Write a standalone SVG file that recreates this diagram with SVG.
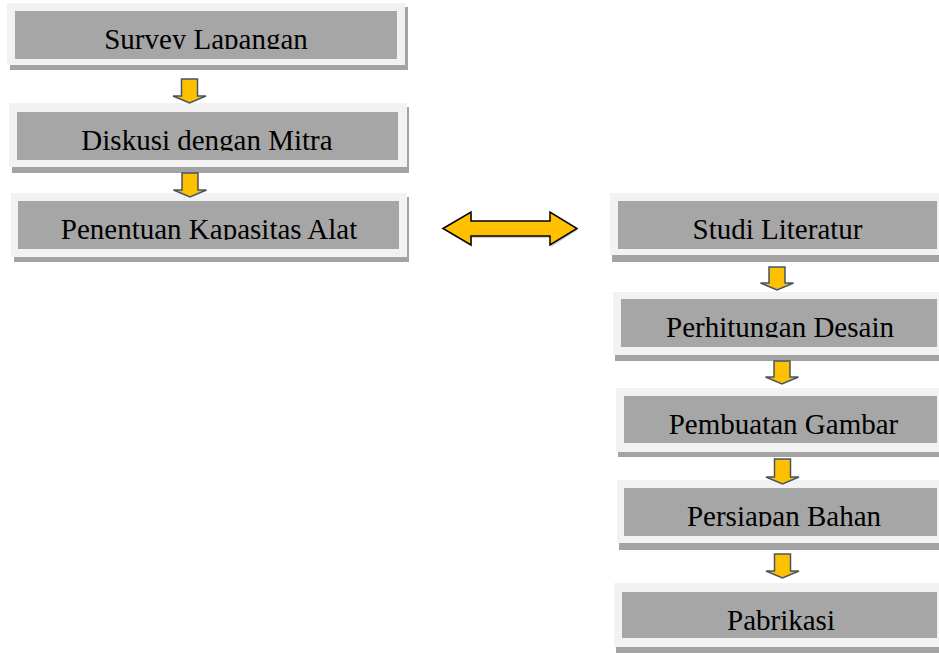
<svg xmlns="http://www.w3.org/2000/svg" width="939" height="654" viewBox="0 0 939 654">
<style>
.sh{fill:#a3a3a3}
.out{fill:#f2f2f2}
.in{fill:#a6a6a6}
.t{font-family:"Liberation Serif","Times New Roman",serif;font-size:29px;fill:#000;text-anchor:middle}
.da{fill:#ffc000;stroke:#44546a;stroke-width:1.5;stroke-linejoin:miter}
.dbl{fill:#ffc000;stroke:#000;stroke-width:1.5;stroke-linejoin:miter}
</style>
<defs>
<clipPath id="c1"><rect x="15" y="11" width="382" height="38"/></clipPath>
<clipPath id="c2"><rect x="17" y="112" width="381" height="39"/></clipPath>
<clipPath id="c3"><rect x="18" y="201" width="381" height="39"/></clipPath>
<clipPath id="c4"><rect x="618" y="201" width="319" height="38.5"/></clipPath>
<clipPath id="c5"><rect x="621" y="299" width="316" height="38.5"/></clipPath>
<clipPath id="c6"><rect x="624" y="396" width="313" height="38.5"/></clipPath>
<clipPath id="c7"><rect x="624" y="488" width="313" height="38.5"/></clipPath>
<clipPath id="c8"><rect x="622" y="592" width="315" height="38.5"/></clipPath>
</defs>
<rect width="939" height="654" fill="#fff"/>
<g id="survey-lapangan">
<rect class="sh" x="10" y="7" width="398" height="63"/>
<rect class="out" x="7" y="3" width="398" height="62"/>
<rect class="in" x="15" y="11" width="382" height="48"/>
<text class="t" x="206" y="48.5" clip-path="url(#c1)">Survey Lapangan</text>
</g>
<g id="diskusi-dengan-mitra">
<rect class="sh" x="12" y="107" width="397" height="66"/>
<rect class="out" x="9" y="103" width="398" height="64"/>
<rect class="in" x="17" y="112" width="381" height="48"/>
<text class="t" x="207" y="150" clip-path="url(#c2)">Diskusi dengan Mitra</text>
</g>
<g id="penentuan-kapasitas-alat">
<rect class="sh" x="14" y="197" width="395" height="65"/>
<rect class="out" x="11" y="193" width="396" height="64"/>
<rect class="in" x="18" y="201" width="381" height="48"/>
<text class="t" x="209" y="239" clip-path="url(#c3)">Penentuan Kapasitas Alat</text>
</g>
<g id="studi-literatur">
<rect class="sh" x="612" y="197" width="340" height="65"/>
<rect class="out" x="610" y="193" width="340" height="62"/>
<rect class="in" x="618" y="201" width="319" height="48"/>
<text class="t" x="777.5" y="238.5" clip-path="url(#c4)">Studi Literatur</text>
</g>
<g id="perhitungan-desain">
<rect class="sh" x="615" y="296" width="340" height="65"/>
<rect class="out" x="613" y="292" width="340" height="63"/>
<rect class="in" x="621" y="299" width="316" height="48"/>
<text class="t" x="780" y="336.5" clip-path="url(#c5)">Perhitungan Desain</text>
</g>
<g id="pembuatan-gambar">
<rect class="sh" x="618" y="392" width="340" height="65"/>
<rect class="out" x="616" y="388" width="340" height="64"/>
<rect class="in" x="624" y="396" width="313" height="47"/>
<text class="t" x="783.5" y="433.5" clip-path="url(#c6)">Pembuatan Gambar</text>
</g>
<g id="persiapan-bahan">
<rect class="sh" x="619" y="484" width="340" height="66"/>
<rect class="out" x="617" y="480" width="340" height="63"/>
<rect class="in" x="624" y="488" width="313" height="48"/>
<text class="t" x="784" y="525.5" clip-path="url(#c7)">Persiapan Bahan</text>
</g>
<g id="pabrikasi">
<rect class="sh" x="616" y="587" width="340" height="66"/>
<rect class="out" x="614" y="583" width="340" height="64"/>
<rect class="in" x="622" y="592" width="315" height="46"/>
<text class="t" x="781" y="629.5" clip-path="url(#c8)">Pabrikasi</text>
</g>
<g id="connectors">
<path class="da" d="M181.5,79 H197.5 V96 H206 L189.5,103 L173,96 H181.5 Z"/>
<path class="da" d="M182,173 H198 V190 H206.5 L190,197 L173.5,190 H182 Z"/>
<path class="da" d="M769,267 H785 V283 H793.5 L777,290 L760.5,283 H769 Z"/>
<path class="da" d="M774,361 H790 V377 H798.5 L782,384 L765.5,377 H774 Z"/>
<path class="da" d="M774.5,459 H790.5 V477 H799 L782.5,484 L766,477 H774.5 Z"/>
<path class="da" d="M774.5,554 H790.5 V571 H799 L782.5,578 L766,571 H774.5 Z"/>
<path d="M444,230 L472,214 V223 H551 V214 L578,230 L551,247 V238 H472 V247 Z" fill="#9a9a9a" opacity="0.5"/>
<path class="dbl" d="M443,228.5 L471,212 V221 H550 V212 L577,228.5 L550,245 V236 H471 V245 Z"/>
</g>
</svg>
